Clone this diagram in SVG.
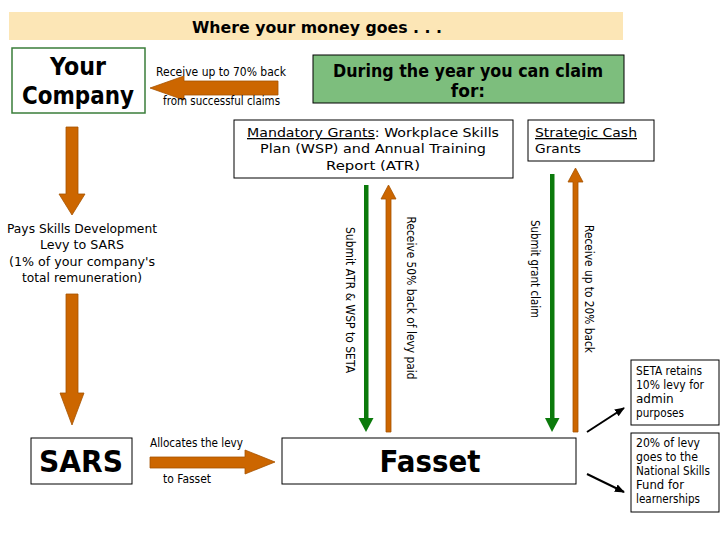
<svg xmlns="http://www.w3.org/2000/svg" width="720" height="540" viewBox="0 0 720 540">
<style>
  .t { font-family: "DejaVu Sans", Verdana, sans-serif; fill: #000; }
  .b { font-weight: bold; }
  .box { fill: #fff; stroke: #000; stroke-width: 1; }
  .org { fill: #CC6600; stroke: #A65300; stroke-width: 0.8; }
  .grn { fill: #0B7A0B; }
  .blk { stroke: #000; stroke-width: 2; fill: none; marker-end: url(#ah); }
  .u { text-decoration: underline; }
</style>
<defs>
  <marker id="ah" markerWidth="10" markerHeight="8" refX="9" refY="4" orient="auto" markerUnits="userSpaceOnUse">
    <path d="M0,0 L10,4 L0,8 Z" fill="#000"/>
  </marker>
</defs>
<rect width="720" height="540" fill="#fff"/>

<g id="title">
  <rect x="9" y="12" width="614" height="28" fill="#FCE6B6"/>
  <text class="t b" x="317" y="33" font-size="16" text-anchor="middle" textLength="250" lengthAdjust="spacingAndGlyphs">Where your money goes . . .</text>
</g>

<g id="your-company">
  <rect x="12" y="48" width="133" height="65" fill="#fff" stroke="#3A7D3A" stroke-width="1.5"/>
  <text class="t b" x="78" y="75" font-size="24" text-anchor="middle" textLength="56" lengthAdjust="spacingAndGlyphs">Your</text>
  <text class="t b" x="78" y="104" font-size="24" text-anchor="middle" textLength="112" lengthAdjust="spacingAndGlyphs">Company</text>
</g>

<g id="claim-header">
  <rect x="313" y="55" width="311" height="48" fill="#7DBE7D" stroke="#000" stroke-width="1"/>
  <text class="t b" x="468" y="77" font-size="17" text-anchor="middle" textLength="270" lengthAdjust="spacingAndGlyphs">During the year you can claim</text>
  <text class="t b" x="468" y="97" font-size="17" text-anchor="middle">for:</text>
</g>

<g id="mandatory">
  <rect class="box" x="234" y="120" width="279" height="58"/>
  <text class="t" x="373" y="137" font-size="13" text-anchor="middle" textLength="252" lengthAdjust="spacingAndGlyphs"><tspan class="u">Mandatory Grants</tspan>: Workplace Skills</text>
  <text class="t" x="373" y="153" font-size="13" text-anchor="middle" textLength="226" lengthAdjust="spacingAndGlyphs">Plan (WSP) and Annual Training</text>
  <text class="t" x="373" y="170" font-size="13" text-anchor="middle" textLength="94" lengthAdjust="spacingAndGlyphs">Report (ATR)</text>
</g>

<g id="strategic">
  <rect class="box" x="528" y="120" width="126" height="41"/>
  <text class="t u" x="535" y="137" font-size="13" textLength="102" lengthAdjust="spacingAndGlyphs">Strategic Cash</text>
  <text class="t" x="535" y="153" font-size="13" textLength="46" lengthAdjust="spacingAndGlyphs">Grants</text>
</g>

<g id="levy-text">
  <text class="t" x="82" y="233" font-size="13" text-anchor="middle" textLength="150" lengthAdjust="spacingAndGlyphs">Pays Skills Development</text>
  <text class="t" x="82" y="249" font-size="13" text-anchor="middle" textLength="84" lengthAdjust="spacingAndGlyphs">Levy to SARS</text>
  <text class="t" x="82" y="266" font-size="13" text-anchor="middle" textLength="146" lengthAdjust="spacingAndGlyphs">(1% of your company's</text>
  <text class="t" x="82" y="282" font-size="13" text-anchor="middle" textLength="120" lengthAdjust="spacingAndGlyphs">total remuneration)</text>
</g>

<g id="sars">
  <rect class="box" x="31" y="438" width="101" height="46"/>
  <text class="t b" x="81" y="472" font-size="30" text-anchor="middle" textLength="84" lengthAdjust="spacingAndGlyphs">SARS</text>
</g>

<g id="fasset">
  <rect class="box" x="282" y="438" width="294" height="46"/>
  <text class="t b" x="430" y="472" font-size="31" text-anchor="middle" textLength="101" lengthAdjust="spacingAndGlyphs">Fasset</text>
</g>

<g id="seta-retains">
  <rect class="box" x="631" y="360" width="88" height="65"/>
  <text class="t" font-size="12">
    <tspan x="636" y="375" textLength="66" lengthAdjust="spacingAndGlyphs">SETA retains</tspan>
    <tspan x="636" y="389" textLength="68" lengthAdjust="spacingAndGlyphs">10% levy for</tspan>
    <tspan x="636" y="403">admin</tspan>
    <tspan x="636" y="417" textLength="48" lengthAdjust="spacingAndGlyphs">purposes</tspan>
  </text>
</g>

<g id="national-skills">
  <rect class="box" x="631" y="433" width="88" height="79"/>
  <text class="t" font-size="12">
    <tspan x="636" y="447" textLength="64" lengthAdjust="spacingAndGlyphs">20% of levy</tspan>
    <tspan x="636" y="461" textLength="62" lengthAdjust="spacingAndGlyphs">goes to the</tspan>
    <tspan x="636" y="475" textLength="74" lengthAdjust="spacingAndGlyphs">National Skills</tspan>
    <tspan x="636" y="489" textLength="48" lengthAdjust="spacingAndGlyphs">Fund for</tspan>
    <tspan x="636" y="503" textLength="64" lengthAdjust="spacingAndGlyphs">learnerships</tspan>
  </text>
</g>

<g id="connectors">
  <!-- refund arrow to company -->
  <polygon class="org" points="150,88 184,76 184,81 278,81 278,95 184,95 184,100"/>
  <text class="t" x="156" y="76" font-size="12" textLength="130" lengthAdjust="spacingAndGlyphs">Receive up to 70% back</text>
  <text class="t" x="163" y="105" font-size="12" textLength="117" lengthAdjust="spacingAndGlyphs">from successful claims</text>

  <!-- company down arrows -->
  <polygon class="org" points="66,127 78,127 78,194 85,194 72,215 59,194 66,194"/>
  <polygon class="org" points="66,294 78,294 78,393 84,393 72,425 60,393 66,393"/>

  <!-- SARS to Fasset -->
  <polygon class="org" points="150,457 245,457 245,450 275,462 245,474 245,468 150,468"/>
  <text class="t" x="150" y="447" font-size="12" textLength="93" lengthAdjust="spacingAndGlyphs">Allocates the levy</text>
  <text class="t" x="163" y="483" font-size="12" textLength="48" lengthAdjust="spacingAndGlyphs">to Fasset</text>

  <!-- mandatory grant arrows -->
  <rect class="grn" x="364" y="185" width="4.5" height="234"/>
  <polygon class="grn" points="358.5,418 373.5,418 366,432"/>
  <polygon class="org" points="386,432 391,432 391,199 396,199 388.5,185 381,199 386,199"/>
  <text class="t" font-size="12" text-anchor="middle" transform="translate(346,300) rotate(90)" textLength="146" lengthAdjust="spacingAndGlyphs">Submit ATR &amp; WSP to SETA</text>
  <text class="t" font-size="12" text-anchor="middle" transform="translate(407,298) rotate(90)" textLength="163" lengthAdjust="spacingAndGlyphs">Receive 50% back of levy paid</text>

  <!-- strategic grant arrows -->
  <rect class="grn" x="550" y="174" width="4.5" height="245"/>
  <polygon class="grn" points="545,418 559.5,418 552,432"/>
  <polygon class="org" points="573,432 578,432 578,182 583,182 575.5,168 568,182 573,182"/>
  <text class="t" font-size="12" text-anchor="middle" transform="translate(531,269) rotate(90)" textLength="98" lengthAdjust="spacingAndGlyphs">Submit grant claim</text>
  <text class="t" font-size="12" text-anchor="middle" transform="translate(585,289) rotate(90)" textLength="128" lengthAdjust="spacingAndGlyphs">Receive up to 20% back</text>

  <!-- Fasset outflows -->
  <line class="blk" x1="587" y1="432" x2="624" y2="408"/>
  <line class="blk" x1="587" y1="474" x2="624" y2="492"/>
</g>
</svg>
